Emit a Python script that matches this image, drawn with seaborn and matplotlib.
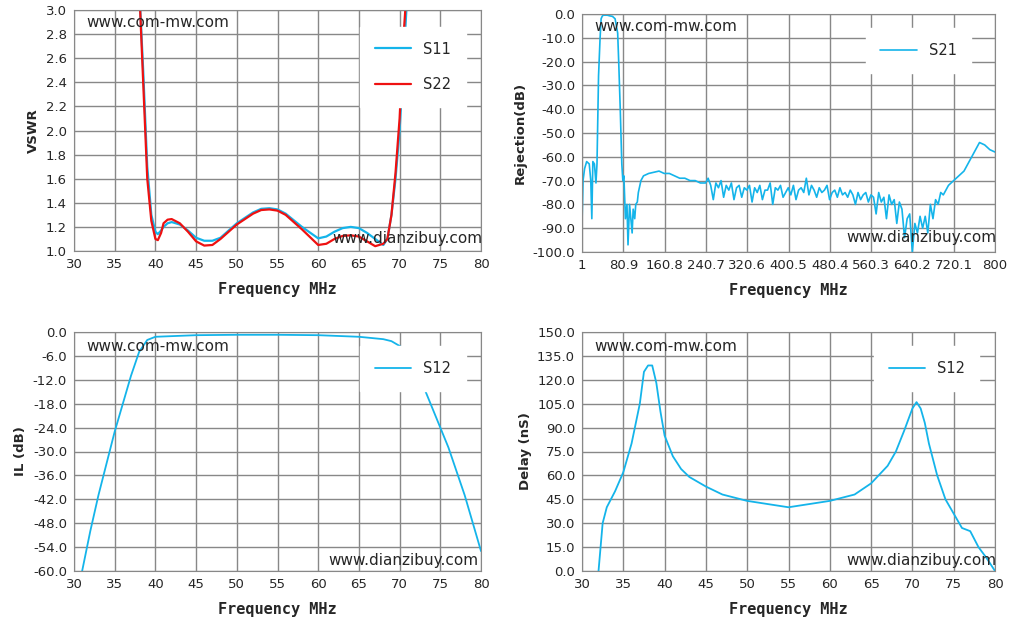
import matplotlib
matplotlib.use("Agg")
import matplotlib.pyplot as plt
import seaborn as sns

# VSWR
vswr_freq = [38, 38.5, 39, 39.5, 40, 40.3, 40.7, 41, 41.5, 42, 43, 44, 45, 46, 47, 48, 50, 52, 53, 54,
             55, 56, 58, 60, 61, 62, 63, 64, 65, 66, 67, 68, 68.5, 69, 69.5, 70, 70.5, 71]
s11 = [3.2, 2.5, 1.7, 1.3, 1.16, 1.14, 1.17, 1.2, 1.23, 1.24, 1.22, 1.17, 1.11, 1.085, 1.085, 1.11,
       1.23, 1.32, 1.35, 1.355, 1.345, 1.31, 1.2, 1.105, 1.12, 1.16, 1.19, 1.2, 1.19, 1.15, 1.10, 1.05,
       1.1, 1.3, 1.6, 2.0, 2.6, 3.2]
s22 = [3.2, 2.4, 1.6, 1.25, 1.1, 1.09, 1.15, 1.23, 1.26, 1.265, 1.23, 1.16, 1.08, 1.045, 1.05, 1.1,
       1.22, 1.31, 1.34, 1.345, 1.335, 1.30, 1.18, 1.05, 1.06, 1.10, 1.125, 1.13, 1.12, 1.08, 1.04,
       1.06, 1.1, 1.3, 1.65, 2.1, 2.8, 3.3]

# Rejection
rej_freq = [1, 3, 6, 10, 15, 18, 20, 22, 25, 28, 30, 33, 36, 38, 40, 42, 45, 50, 55, 60, 65, 70, 72,
            75, 78, 80, 82, 85, 88, 90, 93, 95, 98, 100, 103, 105, 108, 110, 115, 120, 130, 140, 150,
            160, 170, 180, 190, 200, 210, 220, 230, 240, 245, 250, 255, 260, 265, 270, 275, 280, 285,
            290, 295, 300, 305, 310, 315, 320, 325, 330, 335, 340, 345, 350, 355, 360, 365, 370, 375,
            380, 385, 390, 395, 400, 405, 410, 415, 420, 425, 430, 435, 440, 445, 450, 455, 460, 465,
            470, 475, 480, 485, 490, 495, 500, 505, 510, 515, 520, 525, 530, 535, 540, 545, 550, 555,
            560, 565, 570, 575, 580, 585, 590, 595, 600, 605, 610, 615, 620, 625, 630, 635, 640, 645,
            650, 655, 660, 665, 670, 675, 680, 685, 690, 695, 700, 710, 720, 740, 760, 770, 780, 790, 800]
s21 = [-88, -70, -65, -62, -63, -70, -86, -62, -63, -71, -63, -26, -10, -2, -1, -0.5, -0.5, -0.5, -0.8,
       -1, -2, -8, -20, -40, -63, -70, -68, -86, -80, -97, -80, -85, -92, -82, -86, -80, -79, -75,
       -70, -68, -67, -66.5, -66, -67, -67, -68, -69, -69, -70, -70, -71, -71, -69, -72, -78, -71,
       -73, -70, -77, -72, -74, -71, -78, -73, -72, -77, -73, -74, -72, -79, -73, -75, -72, -78, -74,
       -74, -71, -80, -73, -74, -72, -77, -75, -73, -76, -72, -78, -74, -73, -75, -69, -76, -72, -74,
       -77, -73, -75, -74, -72, -78, -75, -74, -77, -73, -76, -75, -77, -74, -76, -80, -75, -78,
       -76, -75, -79, -76, -77, -84, -75, -79, -77, -86, -76, -80, -78, -88, -79, -82, -94, -86,
       -84, -100, -88, -92, -85, -90, -85, -92, -80, -86, -78, -80, -75, -76, -72, -70, -66,
       -58, -54, -55, -57, -58]

# Insertion loss
il_freq = [31, 32, 33, 34, 35, 36, 37, 38, 39, 40, 45, 50, 55, 60, 65, 68, 69, 70, 71, 72, 73, 74,
           75, 76, 77, 78, 79, 80]
s12_il = [-60, -50, -41, -33, -25, -18, -11, -5, -2, -1.2, -0.8, -0.7, -0.7, -0.8, -1.2, -1.8,
          -2.3, -3.5, -6, -9.5, -14, -19, -24, -29, -35, -41, -48, -55]

# Group delay
dl_freq = [32, 32.5, 33, 34, 35, 36, 37, 37.5, 38, 38.5, 39, 39.5, 40, 41, 42, 43, 45, 47, 50, 55,
           60, 63, 65, 67, 68, 69, 69.5, 70, 70.5, 71, 71.5, 72, 73, 74, 75, 76, 77, 78, 79, 80]
s12_dl = [0, 30, 40, 50, 62, 80, 105, 125, 129, 129, 118, 100, 85, 72, 64, 59, 53, 48, 44, 40,
          44, 48, 55, 66, 75, 88, 95, 102, 106, 102, 93, 80, 60, 45, 36, 27, 25, 15, 8, 0]

BLUE = "#14b4ea"
RED = "#ee1111"
W, H = 1013, 629

sns.set_style("white")
plt.rcParams["font.family"] = ["DejaVu Sans"]
fig = plt.figure(figsize=(W / 100, H / 100), dpi=100)


def make_ax(l, t, r, b):
    return fig.add_axes([l / W, 1 - b / H, (r - l) / W, (b - t) / H])


def style(ax, xlim, ylim, yticks, ylabel, xticks, xticklabels=None):
    ax.set_xlim(*xlim)
    ax.set_ylim(*ylim)
    ax.set_yticks(yticks)
    ax.set_yticklabels([f"{v:.1f}" for v in yticks])
    ax.set_xticks(xticks)
    ax.set_xticklabels(xticklabels if xticklabels else [str(v) for v in xticks])
    ax.grid(True, color="#888888", lw=1)
    for s in ax.spines.values():
        s.set_color("#888888")
    ax.tick_params(labelsize=9.5, length=0, pad=5)
    ax.set_xlabel("Frequency MHz", family="DejaVu Sans Mono", fontweight="bold", fontsize=11,
                  labelpad=8)
    ax.set_ylabel(ylabel, fontweight="bold", fontsize=9.5)


def legend(ax, **kw):
    lg = ax.legend(frameon=True, fontsize=10.5, handlelength=2.5, labelspacing=1.4, borderpad=1.0, **kw)
    lg.get_frame().set_edgecolor("white")
    lg.get_frame().set_alpha(1)
    lg.get_frame().set_boxstyle("square", pad=0)


fticks = list(range(30, 85, 5))

# top-left
ax1 = make_ax(74, 10, 481, 251)
sns.lineplot(x=vswr_freq, y=s11, ax=ax1, color=BLUE, lw=1.6, label="S11")
sns.lineplot(x=vswr_freq, y=s22, ax=ax1, color=RED, lw=1.6, label="S22")
style(ax1, (30, 80), (1.0, 3.0), [1.0 + 0.2 * i for i in range(11)], "VSWR", fticks)
legend(ax1, loc="upper right", bbox_to_anchor=(0.98, 0.96))
ax1.text(0.03, 0.93, "www.com-mw.com", transform=ax1.transAxes, fontsize=11)
ax1.text(0.635, 0.035, "www.dianzibuy.com", transform=ax1.transAxes, fontsize=11)

# top-right
ax2 = make_ax(582, 14, 995, 252)
sns.lineplot(x=rej_freq, y=s21, ax=ax2, color=BLUE, lw=1.2, label="S21")
rt = [1, 80.9, 160.8, 240.7, 320.6, 400.5, 480.4, 560.3, 640.2, 720.1, 800]
style(ax2, (1, 800), (-100, 0), [-100 + 10 * i for i in range(11)], "Rejection(dB)", rt,
      ["1", "80.9", "160.8", "240.7", "320.6", "400.5", "480.4", "560.3", "640.2", "720.1", "800"])
legend(ax2, loc="upper right", bbox_to_anchor=(0.96, 0.97))
ax2.text(0.03, 0.93, "www.com-mw.com", transform=ax2.transAxes, fontsize=11)
ax2.text(0.64, 0.04, "www.dianzibuy.com", transform=ax2.transAxes, fontsize=11)

# bottom-left
ax3 = make_ax(74, 332, 481, 571)
sns.lineplot(x=il_freq, y=s12_il, ax=ax3, color=BLUE, lw=1.3, label="S12")
style(ax3, (30, 80), (-60, 0), [-60 + 6 * i for i in range(11)], "IL (dB)", fticks)
legend(ax3, loc="upper right", bbox_to_anchor=(0.98, 0.97))
ax3.text(0.03, 0.92, "www.com-mw.com", transform=ax3.transAxes, fontsize=11)
ax3.text(0.625, 0.025, "www.dianzibuy.com", transform=ax3.transAxes, fontsize=11)

# bottom-right
ax4 = make_ax(582, 332, 995, 571)
sns.lineplot(x=dl_freq, y=s12_dl, ax=ax4, color=BLUE, lw=1.3, label="S12")
style(ax4, (30, 80), (0, 150), [15 * i for i in range(11)], "Delay (nS)", fticks)
legend(ax4, loc="upper right", bbox_to_anchor=(0.98, 0.97))
ax4.text(0.03, 0.92, "www.com-mw.com", transform=ax4.transAxes, fontsize=11)
ax4.text(0.64, 0.025, "www.dianzibuy.com", transform=ax4.transAxes, fontsize=11)

fig.savefig("out.png", dpi=100, facecolor="white")
